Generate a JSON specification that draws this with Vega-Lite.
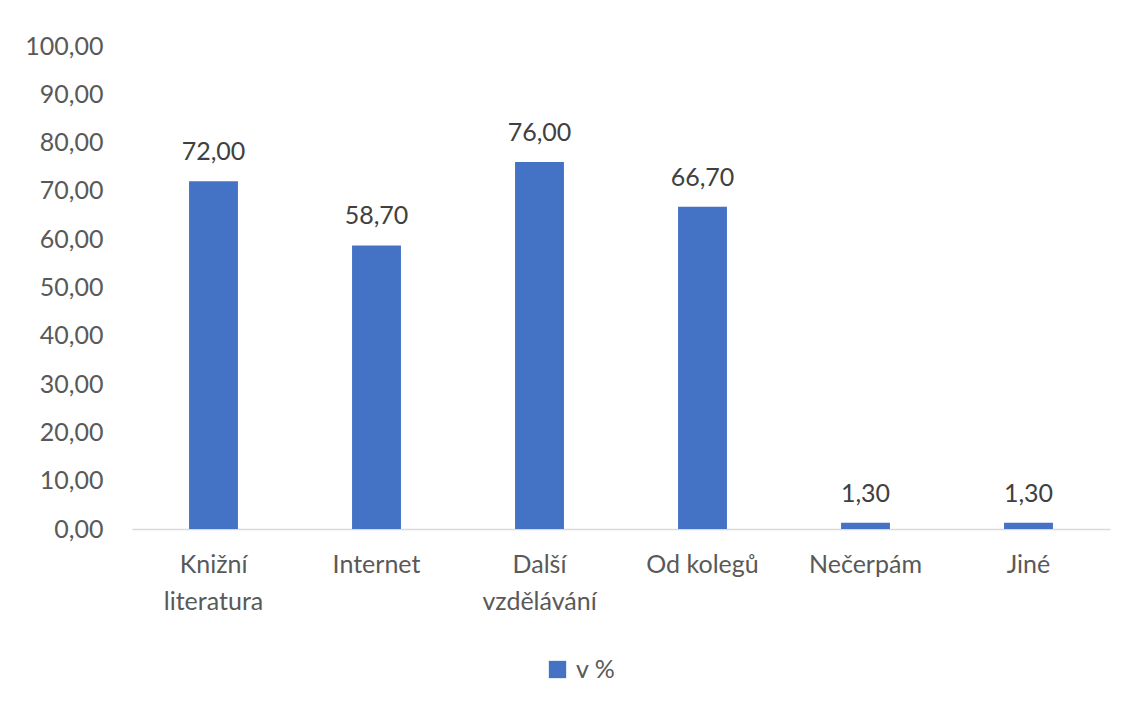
{
  "$schema": "https://vega.github.io/schema/vega-lite/v6.json",
  "width": 978,
  "height": 483,
  "autosize": {"type": "none"},
  "padding": {"left": 132, "top": 46, "right": 21, "bottom": 179},
  "background": "white",
  "config": {
    "view": {"stroke": null},
    "font": "Lato",
    "locale": {"number": {"decimal": ",", "thousands": " ", "grouping": [3], "currency": ["", " Kč"]}}
  },
  "data": {
    "values": [
      {"kategorie": "Knižní literatura", "hodnota": 72.0, "rada": "v %"},
      {"kategorie": "Internet", "hodnota": 58.7, "rada": "v %"},
      {"kategorie": "Další vzdělávání", "hodnota": 76.0, "rada": "v %"},
      {"kategorie": "Od kolegů", "hodnota": 66.7, "rada": "v %"},
      {"kategorie": "Nečerpám", "hodnota": 1.3, "rada": "v %"},
      {"kategorie": "Jiné", "hodnota": 1.3, "rada": "v %"}
    ]
  },
  "encoding": {
    "x": {
      "field": "kategorie",
      "type": "nominal",
      "sort": null,
      "scale": {"paddingInner": 0.7, "paddingOuter": 0.35},
      "axis": {
        "title": null,
        "labelAngle": 0,
        "labelFont": "Lato",
        "labelFontSize": 25,
        "labelColor": "#595959",
        "labelPadding": 23,
        "labelLineHeight": 37,
        "labelBaseline": "top",
        "ticks": false,
        "domainColor": "#d9d9d9",
        "domainWidth": 1.5,
        "grid": false,
        "labelExpr": "datum.label == 'Knižní literatura' ? ['Knižní', 'literatura'] : datum.label == 'Další vzdělávání' ? ['Další', 'vzdělávání'] : datum.label"
      }
    },
    "y": {
      "field": "hodnota",
      "type": "quantitative",
      "scale": {"domain": [0, 100], "nice": false},
      "axis": {
        "title": null,
        "values": [0, 10, 20, 30, 40, 50, 60, 70, 80, 90, 100],
        "format": ".2f",
        "labelFont": "Lato",
        "labelFontSize": 25,
        "labelColor": "#595959",
        "labelPadding": 29,
        "ticks": false,
        "domain": false,
        "grid": false
      }
    }
  },
  "layer": [
    {
      "mark": {"type": "bar"},
      "encoding": {
        "color": {
          "field": "rada",
          "type": "nominal",
          "scale": {"range": ["#4472C4"]},
          "legend": {
            "title": null,
            "orient": "none",
            "legendX": 413,
            "legendY": 611,
            "padding": 0,
            "symbolType": "square",
            "symbolSize": 300,
            "symbolStrokeWidth": 0,
            "labelFont": "Lato",
            "labelFontSize": 25,
            "labelColor": "#595959",
            "labelOffset": 6
          }
        }
      }
    },
    {
      "mark": {"type": "text", "baseline": "alphabetic", "dy": -21, "font": "Lato", "fontSize": 25, "color": "#404040"},
      "encoding": {
        "text": {"field": "hodnota", "type": "quantitative", "format": ".2f"}
      }
    }
  ]
}
